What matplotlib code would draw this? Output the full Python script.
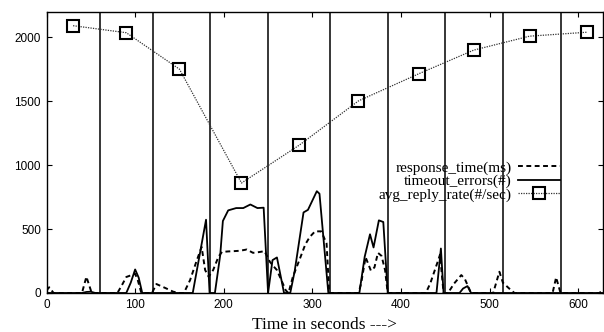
import matplotlib
matplotlib.use("Agg")
import matplotlib.pyplot as plt

#------------------------- Data -------------------------------------------------
# response_time(ms), dashed
respTime = [0, 3, 8, 40, 45, 51, 80, 85, 90, 96, 100, 103, 107, 119, 124, 135, 143, 150,
            155, 162, 169, 175, 179, 183, 188, 194, 198, 205, 211, 218, 226, 233, 240, 246,
            252, 256, 260, 265, 270, 273, 278, 286, 292, 297, 303, 310, 316, 319,
            352, 355, 360, 366, 370, 374, 378, 382, 385,
            428, 433, 442, 444, 448, 453, 460, 468, 472, 479,
            504, 511, 515, 523, 528, 571, 575, 580, 624, 628]
respValue = [20, 45, 0, 0, 127, 0, 0, 60, 125, 140, 150, 100, 0, 0, 70, 36, 10, 0,
             0, 101, 244, 360, 179, 127, 179, 283, 321, 325, 327, 330, 340, 314, 320, 327,
             244, 210, 179, 100, 20, 0, 127, 270, 380, 438, 482, 482, 387, 0,
             0, 75, 280, 175, 200, 314, 290, 179, 0,
             0, 75, 257, 300, 0, 0, 75, 140, 110, 0,
             0, 166, 80, 29, 0, 0, 122, 0, 0, 30]

# timeout_errors(#), solid
errTime = [0, 40, 45, 50, 55, 90, 95, 100, 104, 108, 165, 180, 184, 190, 196, 199, 205,
           214, 222, 230, 238, 245, 250, 255, 260, 268, 275, 280, 290, 295, 305, 308, 318,
           353, 359, 365, 369, 375, 380, 385, 440, 445, 448, 466, 470, 475, 479, 628]
errValue = [0, 0, 8, 10, 0, 0, 80, 184, 120, 0, 0, 573, 0, 0, 296, 563, 646,
            664, 664, 692, 664, 667, 0, 257, 278, 0, 0, 170, 630, 650, 796, 776, 0,
            0, 283, 459, 356, 568, 555, 0, 0, 348, 0, 0, 35, 54, 0, 0]

# avg_reply_rate(#/sec), dotted with squares
rateTime = [30, 90, 150, 220, 285, 352, 420, 482, 545, 610]
rateValue = [2090, 2035, 1750, 860, 1155, 1502, 1714, 1899, 2008, 2039]

# Phase boundaries (vertical lines)
boundaries = [60, 120, 185, 250, 320, 385, 450, 515, 580]

#-------------------------------- Plot ----------------------------------------
fig = plt.figure(figsize=(6.04, 3.32), dpi=100)
ax = fig.add_axes([0.077, 0.1175, 0.9215, 0.8475])

for b in boundaries:
    ax.axvline(b, color="black", lw=1.1)

ax.plot(respTime, respValue, color="black", lw=1.4, ls=(0, (2.5, 1.8)),
        label="response_time(ms)")
ax.plot(errTime, errValue, color="black", lw=1.3, ls="-",
        label="timeout_errors(#)")
ax.plot(rateTime, rateValue, color="#333333", lw=0.9, ls=(0, (1, 1)),
        marker="s", markersize=8.5, markerfacecolor="none", markeredgewidth=1.5,
        markeredgecolor="black", label="avg_reply_rate(#/sec)")

ax.set_xlim(0, 628)
ax.set_ylim(0, 2200)
ax.set_xticks(range(0, 601, 100))
ax.set_yticks(range(0, 2001, 500))
ax.tick_params(direction="in", length=3.6, width=0.8, top=True, right=True,
               labelsize=8.5, pad=4)
for lab in ax.get_xticklabels() + ax.get_yticklabels():
    lab.set_family("Liberation Sans")
for s in ax.spines.values():
    s.set_linewidth(1.0)

ax.set_xlabel("Time in seconds --->", family="Liberation Serif", fontsize=12.5,
              labelpad=5)

leg = ax.legend(loc="upper right", bbox_to_anchor=(0.923, 0.47), frameon=False,
                markerfirst=False, handlelength=2.75, handletextpad=0.45,
                labelspacing=-0.02, borderpad=0, borderaxespad=0,
                prop={"family": "Liberation Serif", "size": 11})

fig.savefig("out.png", dpi=100)
